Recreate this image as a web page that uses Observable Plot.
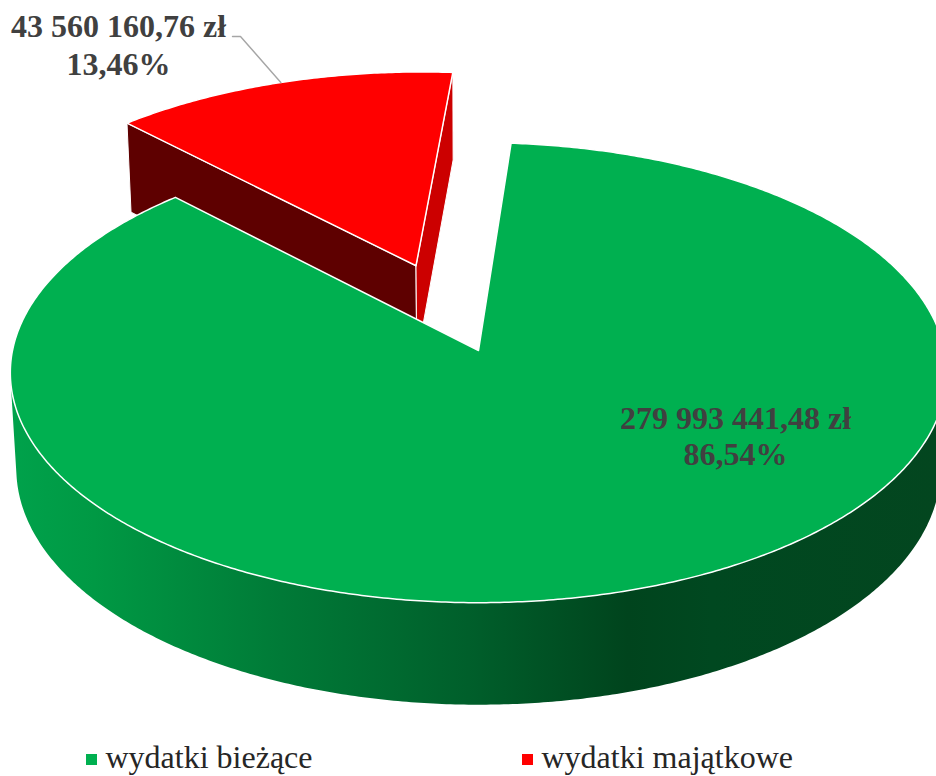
<!DOCTYPE html>
<html>
<head>
<meta charset="utf-8">
<script src="https://cdn.jsdelivr.net/npm/d3@7"></script>
<script src="https://cdn.jsdelivr.net/npm/@observablehq/plot@0.6"></script>
<style>
  html, body { margin: 0; padding: 0; background: #ffffff; overflow: hidden; }
  #chart svg { display: block; overflow: hidden; }
</style>
</head>
<body>
<div id="chart"></div>
<script>
// ---------------- data ----------------
const categories = ["wydatki bieżące", "wydatki majątkowe"];
const amounts = [279993441.48, 43560160.76];
const amountLabels = ["279 993 441,48 zł", "43 560 160,76 zł"];
const percentLabels = ["86,54%", "13,46%"];
const topColors = ["#00B050", "#FF0000"];
const startWallColors = ["#004a1f", "#5E0000"];
const endWallColors = ["#007a35", "#CC0000"];
const explosion = [0, 0.41];

// ---------------- layout ----------------
const W = 936, H = 776;
const CX = 478, CY = 350, RPX = 466;      // pie centre and radius (px)
const SIN_ELEV = 0.489;                   // view elevation
const PD = 9.05;                          // camera distance (radius units)
const DEPTH = 0.238;                      // pie thickness (radius units)
const FIRST_ANGLE = 4.4;                  // rotation of first slice (deg, clockwise from 12 o'clock)
const STEP = 0.5;
const labelPos = [
  {x: 735, y1: 428, y2: 464},
  {x: 118, y1: 36, y2: 74}
];
const leaderStart = [{x: 232, y: 36}, {x: 240, y: 36}];
const legendPos = [{x: 91, y: 759, tx: 105}, {x: 527, y: 759, tx: 541}];
const legendBaseline = 767;

// ---------------- geometry ----------------
const sa = SIN_ELEV, ca = Math.sqrt(1 - sa * sa);
const rad = d => d * Math.PI / 180;
function proj(wx, wy, z) {
  const Z = -z * DEPTH;
  const depth = wy * ca + Z * sa;
  const s = 1 / (1 - depth / PD);
  return {x: CX + RPX * s * wx, y: CY + RPX * s * (wy * sa - Z * ca)};
}
const cam = {x: 0, y: PD * ca};

const total = d3.sum(amounts);
let cum = 0;
const slices = amounts.map((v, i) => {
  const start = -90 + FIRST_ANGLE + cum * 360;
  cum += v / total;
  const end = -90 + FIRST_ANGLE + cum * 360;
  const mid = (start + end) / 2;
  const ox = explosion[i] * Math.cos(rad(mid));
  const oy = explosion[i] * Math.sin(rad(mid));
  return {i, start, end, mid, ox, oy};
});

function samples(a, b) {
  const n = Math.max(2, Math.ceil((b - a) / STEP));
  return d3.range(n + 1).map(k => a + (b - a) * k / n);
}

const faces = [];
const order = slices.slice().sort((p, q) => (Math.sin(rad(p.mid)) + p.oy) - (Math.sin(rad(q.mid)) + q.oy));
for (const sl of order) {
  const {i, start, end, ox, oy} = sl;
  // outer rim
  const vis = samples(start, end).filter(t => {
    const c = Math.cos(rad(t)), s = Math.sin(rad(t));
    return (cam.x - (ox + c)) * c + (cam.y - (oy + s)) * s > 0;
  });
  if (vis.length > 1) {
    const topArc = vis.map(t => proj(ox + Math.cos(rad(t)), oy + Math.sin(rad(t)), 0));
    const botArc = vis.slice().reverse().map(t => proj(ox + Math.cos(rad(t)), oy + Math.sin(rad(t)), 1));
    faces.push({pts: topArc.concat(botArc), fill: i === 0 ? "url(#sideGrad)" : "#8b0000", stroke: "none", sw: 0});
  }
  // radial walls
  const walls = [
    {a: start, n: [Math.sin(rad(start)), -Math.cos(rad(start))], color: startWallColors[i]},
    {a: end, n: [-Math.sin(rad(end)), Math.cos(rad(end))], color: endWallColors[i]}
  ];
  for (const w of walls) {
    if ((cam.x - ox) * w.n[0] + (cam.y - oy) * w.n[1] > 0) {
      const c = Math.cos(rad(w.a)), s = Math.sin(rad(w.a));
      faces.push({pts: [proj(ox, oy, 0), proj(ox + c, oy + s, 0), proj(ox + c, oy + s, 1), proj(ox, oy, 1), proj(ox, oy, 0)],
                  fill: w.color, stroke: "#ffffff", sw: 1});
    }
  }
  // top face
  const topPts = [proj(ox, oy, 0)]
    .concat(samples(start, end).map(t => proj(ox + Math.cos(rad(t)), oy + Math.sin(rad(t)), 0)))
    .concat([proj(ox, oy, 0)]);
  faces.push({pts: topPts, fill: topColors[i], stroke: "#ffffff", sw: 1.5});
}

// leader for the exploded slice
const red = slices[1];
const leaderEnd = proj(red.ox + Math.cos(rad(red.mid)), red.oy + Math.sin(rad(red.mid)), 0);
const leaderPts = leaderStart.concat([leaderEnd]);

const labelData = [];
slices.forEach((sl, i) => {
  labelData.push({x: labelPos[i].x, y: labelPos[i].y1, text: amountLabels[i]});
  labelData.push({x: labelPos[i].x, y: labelPos[i].y2, text: percentLabels[i]});
});
const legendData = categories.map((c, i) => ({x: legendPos[i].x, y: legendPos[i].y, tx: legendPos[i].tx, ty: legendBaseline, name: c, color: topColors[i]}));

const marks = faces.map(f => Plot.line(f.pts, {x: "x", y: "y", fill: f.fill, stroke: f.stroke, strokeWidth: f.sw, strokeLinejoin: "round", curve: "linear"}));
marks.push(Plot.line(leaderPts, {x: "x", y: "y", stroke: "#a6a6a6", strokeWidth: 1.4}));
marks.push(Plot.text(labelData, {x: "x", y: "y", text: "text", textAnchor: "middle", lineAnchor: "bottom",
  fontFamily: "Liberation Serif", fontWeight: "bold", fontSize: 32, fill: "#404040"}));
marks.push(Plot.dot(legendData, {x: "x", y: "y", symbol: "square", r: 6.2, fill: "color", stroke: "none"}));
marks.push(Plot.text(legendData, {x: "tx", y: "ty", text: "name", textAnchor: "start", lineAnchor: "bottom",
  fontFamily: "Liberation Serif", fontSize: 32, fill: "#262626"}));

const chart = Plot.plot({
  width: W, height: H,
  margin: 0,
  x: {domain: [0, W], range: [0, W], axis: null},
  y: {domain: [0, H], range: [0, H], axis: null},
  color: {type: "identity"},
  style: {background: "#ffffff"},
  marks
});

const defs = document.createElementNS("http://www.w3.org/2000/svg", "defs");
defs.innerHTML = `<linearGradient id="sideGrad" gradientUnits="userSpaceOnUse" x1="0" y1="0" x2="${W}" y2="0">
  <stop offset="0" stop-color="#00a34c"/>
  <stop offset="0.1" stop-color="#009944"/>
  <stop offset="0.3" stop-color="#007a37"/>
  <stop offset="0.5" stop-color="#005f2b"/>
  <stop offset="0.67" stop-color="#00441d"/>
  <stop offset="0.76" stop-color="#004820"/>
  <stop offset="1" stop-color="#03461f"/>
</linearGradient>`;
chart.prepend(defs);
document.getElementById("chart").appendChild(chart);
</script>
</body>
</html>
